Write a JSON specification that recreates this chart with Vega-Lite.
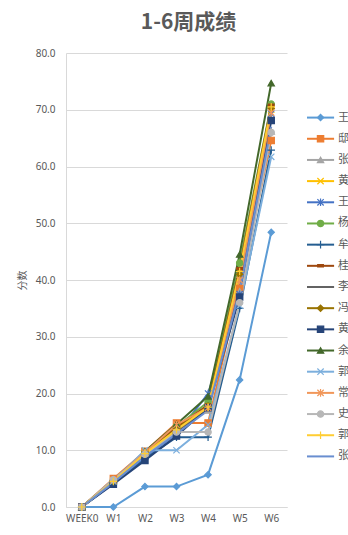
{
  "$schema": "https://vega.github.io/schema/vega-lite/v6.json",
  "autosize": {"type": "pad"},
  "padding": {"left": 17, "top": 12, "right": 0, "bottom": 0},
  "background": "#ffffff",
  "config": {
    "font": "Noto Sans, Noto Sans CJK SC",
    "view": {"stroke": null},
    "concat": {"spacing": 19}
  },
  "title": {
    "text": "1-6周成绩",
    "fontSize": 21,
    "fontWeight": "bold",
    "color": "#595959",
    "font": "Noto Sans CJK SC",
    "anchor": "middle",
    "offset": 15,
    "dx": 5
  },
  "datasets": {
    "scores": [
      {"id":"s01","w":"WEEK0","v":0},{"id":"s01","w":"W1","v":0},{"id":"s01","w":"W2","v":3.6},{"id":"s01","w":"W3","v":3.6},{"id":"s01","w":"W4","v":5.7},{"id":"s01","w":"W5","v":22.4},{"id":"s01","w":"W6","v":48.4},
      {"id":"s02","w":"WEEK0","v":0},{"id":"s02","w":"W1","v":5.0},{"id":"s02","w":"W2","v":9.8},{"id":"s02","w":"W3","v":14.8},{"id":"s02","w":"W4","v":14.8},{"id":"s02","w":"W5","v":38.5},{"id":"s02","w":"W6","v":64.6},
      {"id":"s03","w":"WEEK0","v":0},{"id":"s03","w":"W1","v":4.9},{"id":"s03","w":"W2","v":9.5},{"id":"s03","w":"W3","v":13.8},{"id":"s03","w":"W4","v":17.0},{"id":"s03","w":"W5","v":38.0},{"id":"s03","w":"W6","v":66.2},
      {"id":"s04","w":"WEEK0","v":0},{"id":"s04","w":"W1","v":4.5},{"id":"s04","w":"W2","v":9.5},{"id":"s04","w":"W3","v":13.5},{"id":"s04","w":"W4","v":17.5},{"id":"s04","w":"W5","v":41.5},{"id":"s04","w":"W6","v":70.0},
      {"id":"s05","w":"WEEK0","v":0},{"id":"s05","w":"W1","v":4.2},{"id":"s05","w":"W2","v":8.8},{"id":"s05","w":"W3","v":12.8},{"id":"s05","w":"W4","v":20.0},{"id":"s05","w":"W5","v":37.5},{"id":"s05","w":"W6","v":69.3},
      {"id":"s06","w":"WEEK0","v":0},{"id":"s06","w":"W1","v":4.6},{"id":"s06","w":"W2","v":9.6},{"id":"s06","w":"W3","v":14.2},{"id":"s06","w":"W4","v":18.5},{"id":"s06","w":"W5","v":43.0},{"id":"s06","w":"W6","v":71.0},
      {"id":"s07","w":"WEEK0","v":0},{"id":"s07","w":"W1","v":4.2},{"id":"s07","w":"W2","v":8.5},{"id":"s07","w":"W3","v":12.3},{"id":"s07","w":"W4","v":12.3},{"id":"s07","w":"W5","v":35.0},{"id":"s07","w":"W6","v":62.9},
      {"id":"s08","w":"WEEK0","v":0},{"id":"s08","w":"W1","v":4.6},{"id":"s08","w":"W2","v":9.5},{"id":"s08","w":"W3","v":14.0},{"id":"s08","w":"W4","v":18.0},{"id":"s08","w":"W5","v":42.0},{"id":"s08","w":"W6","v":70.8},
      {"id":"s09","w":"WEEK0","v":0},{"id":"s09","w":"W1","v":4.4},{"id":"s09","w":"W2","v":9.2},{"id":"s09","w":"W3","v":13.3},{"id":"s09","w":"W4","v":17.2},{"id":"s09","w":"W5","v":39.5},{"id":"s09","w":"W6","v":68.5},
      {"id":"s10","w":"WEEK0","v":0},{"id":"s10","w":"W1","v":4.6},{"id":"s10","w":"W2","v":9.4},{"id":"s10","w":"W3","v":13.8},{"id":"s10","w":"W4","v":17.8},{"id":"s10","w":"W5","v":41.0},{"id":"s10","w":"W6","v":70.2},
      {"id":"s11","w":"WEEK0","v":0},{"id":"s11","w":"W1","v":4.0},{"id":"s11","w":"W2","v":8.2},{"id":"s11","w":"W3","v":12.5},{"id":"s11","w":"W4","v":17.5},{"id":"s11","w":"W5","v":37.0},{"id":"s11","w":"W6","v":68.1},
      {"id":"s12","w":"WEEK0","v":0},{"id":"s12","w":"W1","v":4.6},{"id":"s12","w":"W2","v":9.8},{"id":"s12","w":"W3","v":14.6},{"id":"s12","w":"W4","v":19.5},{"id":"s12","w":"W5","v":44.5},{"id":"s12","w":"W6","v":74.7},
      {"id":"s13","w":"WEEK0","v":0},{"id":"s13","w":"W1","v":4.5},{"id":"s13","w":"W2","v":10.0},{"id":"s13","w":"W3","v":10.0},{"id":"s13","w":"W4","v":14.5},{"id":"s13","w":"W5","v":35.5},{"id":"s13","w":"W6","v":61.7},
      {"id":"s14","w":"WEEK0","v":0},{"id":"s14","w":"W1","v":4.7},{"id":"s14","w":"W2","v":9.6},{"id":"s14","w":"W3","v":14.5},{"id":"s14","w":"W4","v":17.5},{"id":"s14","w":"W5","v":40.0},{"id":"s14","w":"W6","v":69.5},
      {"id":"s15","w":"WEEK0","v":0},{"id":"s15","w":"W1","v":4.8},{"id":"s15","w":"W2","v":9.3},{"id":"s15","w":"W3","v":13.2},{"id":"s15","w":"W4","v":13.2},{"id":"s15","w":"W5","v":36.0},{"id":"s15","w":"W6","v":66.0},
      {"id":"s16","w":"WEEK0","v":0},{"id":"s16","w":"W1","v":4.5},{"id":"s16","w":"W2","v":9.4},{"id":"s16","w":"W3","v":13.6},{"id":"s16","w":"W4","v":17.6},{"id":"s16","w":"W5","v":41.5},{"id":"s16","w":"W6","v":70.5},
      {"id":"s17","w":"WEEK0","v":0},{"id":"s17","w":"W1","v":4.3},{"id":"s17","w":"W2","v":8.9},{"id":"s17","w":"W3","v":12.9},{"id":"s17","w":"W4","v":17.0},{"id":"s17","w":"W5","v":38.0},{"id":"s17","w":"W6","v":67.0}
    ],
    "series": [
      {"id":"s01","name":"王"},{"id":"s02","name":"邸"},{"id":"s03","name":"张"},{"id":"s04","name":"黄"},
      {"id":"s05","name":"王"},{"id":"s06","name":"杨"},{"id":"s07","name":"牟"},{"id":"s08","name":"桂"},
      {"id":"s09","name":"李"},{"id":"s10","name":"冯"},{"id":"s11","name":"黄"},{"id":"s12","name":"余"},
      {"id":"s13","name":"郭"},{"id":"s14","name":"常"},{"id":"s15","name":"史"},{"id":"s16","name":"郭"},
      {"id":"s17","name":"张"}
    ]
  },
  "hconcat": [
    {
      "width": 221,
      "height": 454,
      "data": {"name": "scores"},
      "encoding": {
        "x": {
          "field": "w", "type": "ordinal",
          "sort": ["WEEK0","W1","W2","W3","W4","W5","W6"],
          "scale": {"type": "point", "padding": 0.5},
          "axis": {
            "title": null, "labelAngle": 0, "ticks": false,
            "domainColor": "#D9D9D9", "domainWidth": 1,
            "labelColor": "#595959", "labelFontSize": 10, "labelPadding": 6
          }
        },
        "y": {
          "field": "v", "type": "quantitative",
          "scale": {"domain": [0, 80], "nice": false},
          "axis": {
            "title": "分数", "titleColor": "#595959", "titleFontSize": 10,
            "titleFontWeight": "normal", "titlePadding": 8,
            "values": [0,10,20,30,40,50,60,70,80], "format": ".1f",
            "ticks": false, "labelPadding": 11,
            "labelColor": "#595959", "labelFontSize": 10,
            "gridColor": "#D9D9D9", "domainColor": "#D9D9D9"
          }
        }
      },
      "layer": [
        {
          "mark": {"type": "line", "strokeWidth": 2},
          "encoding": {
            "color": {
              "field": "id", "type": "nominal", "legend": null,
              "scale": {
                "domain": ["s01","s02","s03","s04","s05","s06","s07","s08","s09","s10","s11","s12","s13","s14","s15","s16","s17"],
                "range": ["#5B9BD5","#ED7D31","#A5A5A5","#FFC000","#4472C4","#70AD47","#255E91","#9E480E","#636363","#997300","#264478","#43682B","#7CAFDD","#F1975A","#B7B7B7","#FFCD33","#698ED0"]
              }
            }
          }
        },
        {
          "mark": {"type": "point", "filled": true, "size": 40, "strokeWidth": 1.2, "opacity": 1},
          "encoding": {
            "fill": {
              "field": "id", "type": "nominal", "legend": null,
              "scale": {
                "domain": ["s01","s02","s03","s04","s05","s06","s07","s08","s09","s10","s11","s12","s13","s14","s15","s16","s17"],
                "range": ["#5B9BD5","#ED7D31","#A5A5A5","#FFC000","#4472C4","#70AD47","#255E91","#9E480E","#636363","#997300","#264478","#43682B","#7CAFDD","#F1975A","#B7B7B7","#FFCD33","#698ED0"]
              }
            },
            "stroke": {
              "field": "id", "type": "nominal", "legend": null,
              "scale": {
                "domain": ["s01","s02","s03","s04","s05","s06","s07","s08","s09","s10","s11","s12","s13","s14","s15","s16","s17"],
                "range": ["#5B9BD5","#ED7D31","#A5A5A5","#FFC000","#4472C4","#70AD47","#255E91","#9E480E","#636363","#997300","#264478","#43682B","#7CAFDD","#F1975A","#B7B7B7","#FFCD33","#698ED0"]
              }
            },
            "shape": {
              "field": "id", "type": "nominal", "legend": null,
              "scale": {
                "domain": ["s01","s02","s03","s04","s05","s06","s07","s08","s09","s10","s11","s12","s13","s14","s15","s16","s17"],
                "range": ["diamond","square","triangle-up","M-1,-1L1,1M-1,1L1,-1","M-1,-1L1,1M-1,1L1,-1M0,-1.2L0,1.2","circle","M-1.2,0L1.2,0M0,-1.2L0,1.2","M-0.9,-0.35L0.9,-0.35L0.9,0.35L-0.9,0.35Z","M0,0","diamond","square","triangle-up","M-1,-1L1,1M-1,1L1,-1","M-1,-1L1,1M-1,1L1,-1M0,-1.2L0,1.2","circle","M-1.2,0L1.2,0M0,-1.2L0,1.2","M0,0"]
              }
            }
          }
        }
      ]
    },
    {
      "width": 43,
      "height": 454,
      "data": {"name": "series"},
      "encoding": {
        "y": {
          "field": "id", "type": "ordinal",
          "scale": {
            "type": "point",
            "domain": ["s01","s02","s03","s04","s05","s06","s07","s08","s09","s10","s11","s12","s13","s14","s15","s16","s17"],
            "range": [54, 414]
          },
          "axis": null
        }
      },
      "layer": [
        {
          "mark": {"type": "rule", "strokeWidth": 2},
          "encoding": {
            "x": {"datum": 0, "type": "quantitative", "scale": {"domain": [0, 1], "nice": false}, "axis": null},
            "x2": {"datum": 0.63},
            "color": {
              "field": "id", "type": "nominal", "legend": null,
              "scale": {
                "domain": ["s01","s02","s03","s04","s05","s06","s07","s08","s09","s10","s11","s12","s13","s14","s15","s16","s17"],
                "range": ["#5B9BD5","#ED7D31","#A5A5A5","#FFC000","#4472C4","#70AD47","#255E91","#9E480E","#636363","#997300","#264478","#43682B","#7CAFDD","#F1975A","#B7B7B7","#FFCD33","#698ED0"]
              }
            }
          }
        },
        {
          "mark": {"type": "point", "filled": true, "size": 40, "strokeWidth": 1.2, "opacity": 1},
          "encoding": {
            "x": {"datum": 0.315, "type": "quantitative", "scale": {"domain": [0, 1], "nice": false}, "axis": null},
            "fill": {
              "field": "id", "type": "nominal", "legend": null,
              "scale": {
                "domain": ["s01","s02","s03","s04","s05","s06","s07","s08","s09","s10","s11","s12","s13","s14","s15","s16","s17"],
                "range": ["#5B9BD5","#ED7D31","#A5A5A5","#FFC000","#4472C4","#70AD47","#255E91","#9E480E","#636363","#997300","#264478","#43682B","#7CAFDD","#F1975A","#B7B7B7","#FFCD33","#698ED0"]
              }
            },
            "stroke": {
              "field": "id", "type": "nominal", "legend": null,
              "scale": {
                "domain": ["s01","s02","s03","s04","s05","s06","s07","s08","s09","s10","s11","s12","s13","s14","s15","s16","s17"],
                "range": ["#5B9BD5","#ED7D31","#A5A5A5","#FFC000","#4472C4","#70AD47","#255E91","#9E480E","#636363","#997300","#264478","#43682B","#7CAFDD","#F1975A","#B7B7B7","#FFCD33","#698ED0"]
              }
            },
            "shape": {
              "field": "id", "type": "nominal", "legend": null,
              "scale": {
                "domain": ["s01","s02","s03","s04","s05","s06","s07","s08","s09","s10","s11","s12","s13","s14","s15","s16","s17"],
                "range": ["diamond","square","triangle-up","M-1,-1L1,1M-1,1L1,-1","M-1,-1L1,1M-1,1L1,-1M0,-1.2L0,1.2","circle","M-1.2,0L1.2,0M0,-1.2L0,1.2","M-0.9,-0.35L0.9,-0.35L0.9,0.35L-0.9,0.35Z","M0,0","diamond","square","triangle-up","M-1,-1L1,1M-1,1L1,-1","M-1,-1L1,1M-1,1L1,-1M0,-1.2L0,1.2","circle","M-1.2,0L1.2,0M0,-1.2L0,1.2","M0,0"]
              }
            }
          }
        },
        {
          "mark": {"type": "text", "align": "left", "baseline": "middle", "fontSize": 11, "color": "#595959", "font": "Noto Sans CJK SC"},
          "encoding": {
            "x": {"datum": 0.72, "type": "quantitative", "scale": {"domain": [0, 1], "nice": false}, "axis": null},
            "text": {"field": "name"}
          }
        }
      ]
    }
  ]
}
